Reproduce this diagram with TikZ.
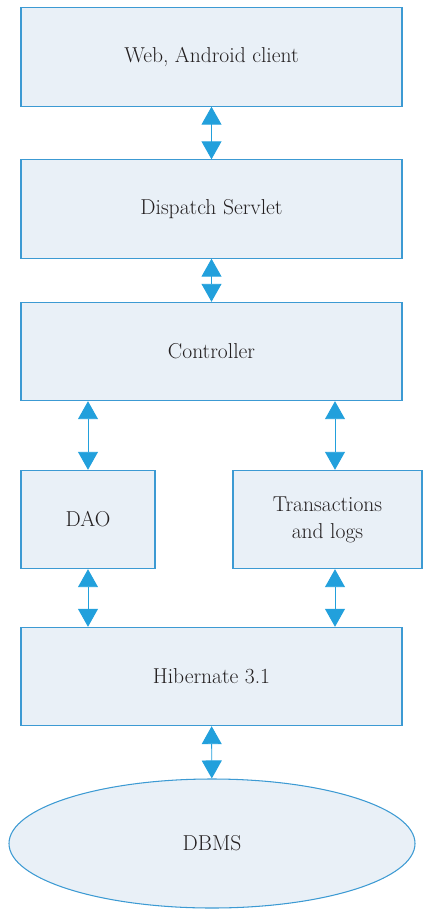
\documentclass[tikz,border=0pt]{standalone}
\usepackage{tikz}
\usetikzlibrary{shapes.geometric,arrows.meta}
\definecolor{boxfill}{HTML}{E9F0F7}
\definecolor{boxline}{HTML}{3C9AD3}
\definecolor{arrowblue}{HTML}{22A0DC}
\definecolor{labeltext}{HTML}{231F20}

\begin{document}
\begin{tikzpicture}[x=0.03cm, y=-0.03cm,
    every node/.style={draw=boxline, fill=boxfill, line width=0.9pt, align=center,
       text=labeltext, font=\fontsize{18.4}{23}\selectfont, inner sep=0pt, minimum height=2.95cm},
    link/.style={draw=arrowblue, line width=0.8pt,
       {Triangle[length=0.54cm,width=0.6cm]}-{Triangle[length=0.54cm,width=0.6cm]}}]
    \useasboundingbox (0,0) rectangle (423,910);
    \node (web)   at (211.5,57)    [minimum width=11.43cm] {Web, Android client};
    \node (disp)  at (211.5,209)   [minimum width=11.43cm] {Dispatch Servlet};
    \node (ctrl)  at (211.5,351.5) [minimum width=11.43cm] {Controller};
    \node (dao)   at (88,519.5)    [minimum width=4.02cm] {DAO};
    \node (trans) at (327.5,519.5) [minimum width=5.67cm] {Transactions\\and logs};
    \node (hib)   at (211.5,676.5) [minimum width=11.43cm] {Hibernate 3.1};
    \node (dbms)  at (212,843.5)   [ellipse, minimum width=12.18cm, minimum height=3.87cm] {DBMS};
    \coordinate (tx) at (335,0);
    \draw[link] (web) -- (disp);  \draw[link] (disp) -- (ctrl);
    \draw[link] (ctrl.south -| dao.north) -- (dao.north);
    \draw[link] (tx |- ctrl.south) -- (tx |- trans.north);
    \draw[link] (dao.south) -- (dao.south |- hib.north);
    \draw[link] (tx |- trans.south) -- (tx |- hib.north);
    \draw[link] (hib) -- (dbms);
  \end{tikzpicture}
\end{document}
